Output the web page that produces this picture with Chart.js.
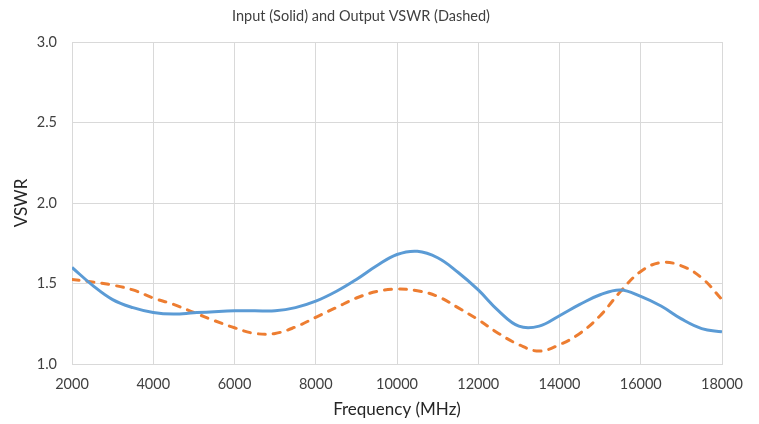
<!DOCTYPE html>
<html>
<head>
<meta charset="utf-8">
<script src="https://cdn.jsdelivr.net/npm/chart.js@4"></script>
<style>
  html, body { margin: 0; padding: 0; background: #fff; }
  #wrap { width: 759px; height: 424px; }
</style>
</head>
<body>
<div id="wrap"><canvas id="vswrChart"></canvas></div>
<script>
const freqs = [2000, 2500, 3000, 3500, 4000, 4500, 5000, 5500, 6000, 6500, 7000, 7500, 8000, 8500, 9000, 9500, 10000, 10500, 11000, 11500, 12000, 12500, 13000, 13500, 14000, 14500, 15000, 15500, 16000, 16500, 17000, 17500, 18000];
const inputVswr = [1.60, 1.49, 1.40, 1.35, 1.32, 1.31, 1.318, 1.325, 1.33, 1.33, 1.33, 1.35, 1.39, 1.45, 1.525, 1.61, 1.68, 1.70, 1.66, 1.57, 1.46, 1.33, 1.235, 1.235, 1.30, 1.37, 1.43, 1.46, 1.42, 1.36, 1.28, 1.22, 1.20];
const outputVswr = [1.525, 1.51, 1.49, 1.46, 1.41, 1.37, 1.32, 1.27, 1.225, 1.19, 1.19, 1.23, 1.29, 1.35, 1.41, 1.45, 1.465, 1.455, 1.42, 1.35, 1.275, 1.19, 1.12, 1.08, 1.12, 1.19, 1.30, 1.45, 1.575, 1.63, 1.61, 1.535, 1.40];

const xTicks = [2000, 4000, 6000, 8000, 10000, 12000, 14000, 16000, 18000];
const yTicks = [1.0, 1.5, 2.0, 2.5, 3.0];

const fontFam = "Lato, 'Open Sans', sans-serif";

document.addEventListener("DOMContentLoaded", function() {
    const ctx = document.getElementById("vswrChart").getContext('2d');

    new Chart(ctx, {
        type: 'line',
        data: {
            datasets: [{
                label: 'Input VSWR',
                data: freqs.map((f, i) => ({ x: f, y: inputVswr[i] })),
                borderColor: '#5b9bd5',
                borderWidth: 3,
                pointRadius: 0,
                tension: 0.4,
                fill: false
            }, {
                label: 'Output VSWR',
                data: freqs.map((f, i) => ({ x: f, y: outputVswr[i] })),
                borderColor: '#ed7d31',
                borderWidth: 3,
                borderDash: [7, 8],
                borderCapStyle: 'round',
                pointRadius: 0,
                tension: 0.4,
                fill: false
            }]
        },
        options: {
            responsive: true,
            maintainAspectRatio: false,
            animation: false,
            layout: { padding: { left: 0, right: 37, top: 0, bottom: 0 } },
            plugins: {
                legend: { display: false },
                tooltip: { enabled: false },
                title: {
                    display: true,
                    text: 'Input (Solid) and Output VSWR (Dashed)',
                    color: '#404040',
                    font: { family: fontFam, size: 14.5, weight: 'normal' },
                    padding: { top: 7.3, bottom: 17.3 }
                }
            },
            scales: {
                x: {
                    type: 'linear',
                    min: 2000,
                    max: 18000,
                    afterBuildTicks: axis => { axis.ticks = xTicks.map(v => ({ value: v })); },
                    afterFit: axis => { axis.height = 60; },
                    grid: { color: '#d9d9d9', drawTicks: false },
                    border: { color: '#d9d9d9' },
                    ticks: {
                        color: '#404040',
                        padding: 12,
                        maxRotation: 0,
                        font: { family: fontFam, size: 14.5 },
                        callback: v => String(v)
                    },
                    title: {
                        display: true,
                        text: 'Frequency (MHz)',
                        color: '#262626',
                        font: { family: fontFam, size: 17 },
                        padding: { top: 2, bottom: 4 }
                    }
                },
                y: {
                    min: 1.0,
                    max: 3.0,
                    afterBuildTicks: axis => { axis.ticks = yTicks.map(v => ({ value: v })); },
                    afterFit: axis => { axis.width = 72; },
                    grid: { color: '#d9d9d9', drawTicks: false },
                    border: { display: false },
                    ticks: {
                        color: '#404040',
                        padding: 15,
                        font: { family: fontFam, size: 14.5 },
                        callback: v => v.toFixed(1)
                    },
                    title: {
                        display: true,
                        text: 'VSWR',
                        color: '#262626',
                        font: { family: fontFam, size: 17 },
                        padding: { top: 11, bottom: 2 }
                    }
                }
            }
        }
    });
});
</script>
</body>
</html>
